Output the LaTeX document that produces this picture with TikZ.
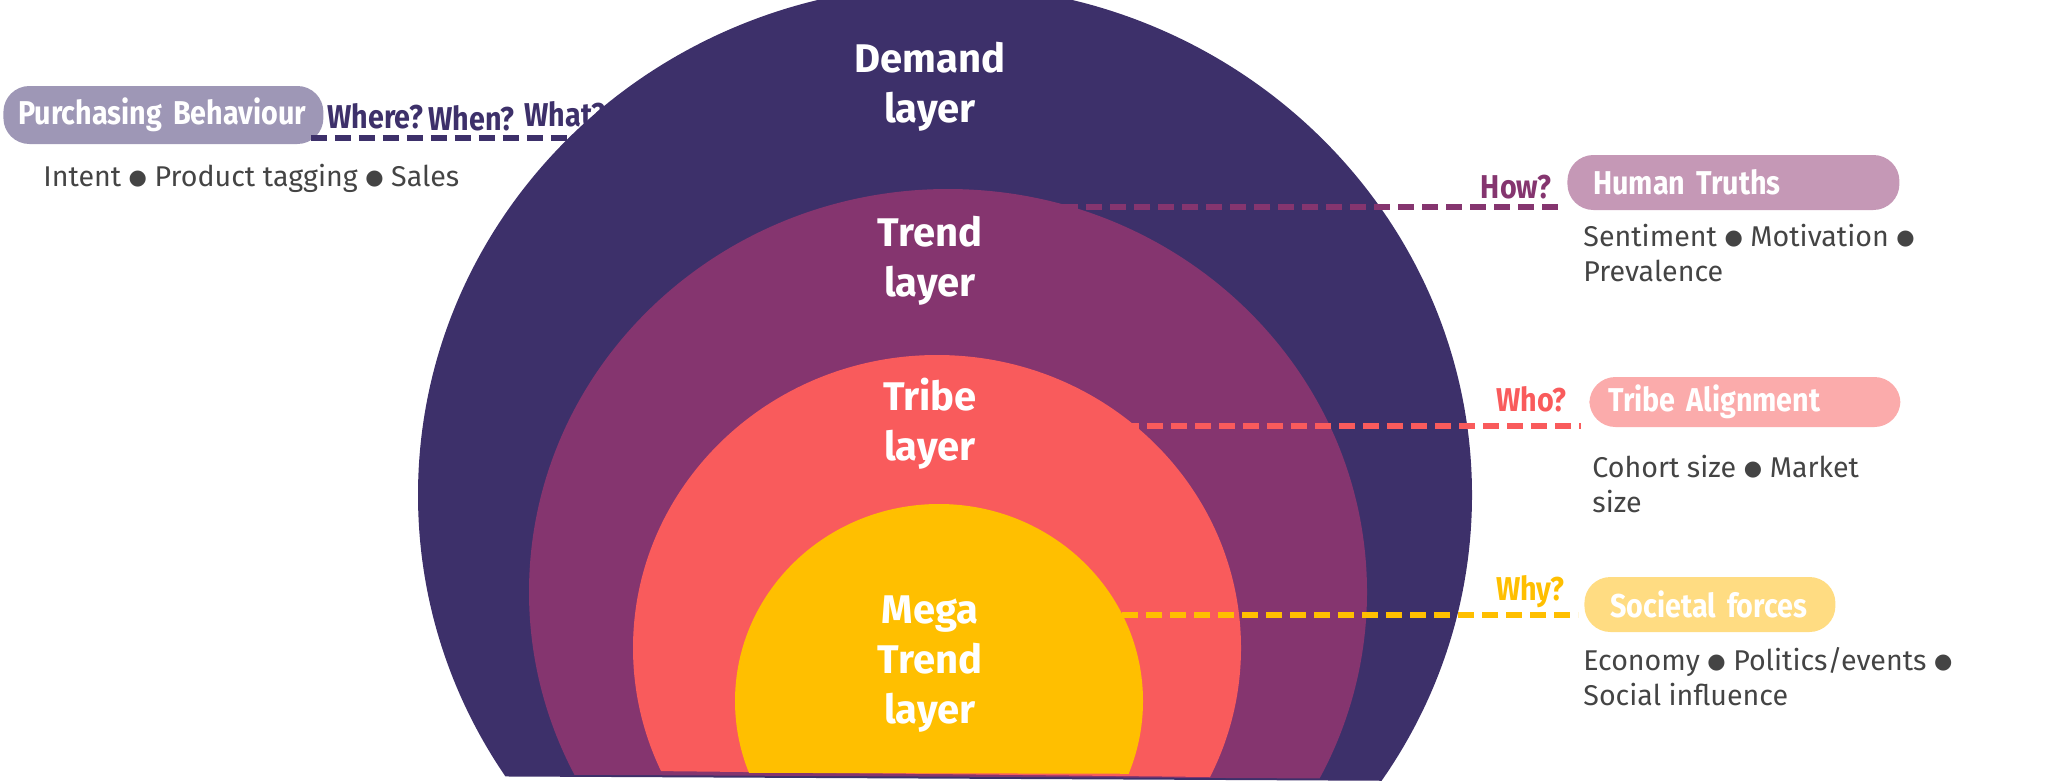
\documentclass[tikz,border=0pt]{standalone}
\usepackage{fontspec}
\setmainfont{Fira Sans}
\newfontfamily\narrowfont[FakeStretch=0.87]{Fira Sans}
\newfontfamily\dotfont{DejaVu Sans}
\newcommand{\sepdot}{\raisebox{0.9pt}{\dotfont\fontsize{10.5}{10.5}\selectfont ●}}
\definecolor{demandc}{HTML}{3D306A}
\definecolor{trendc}{HTML}{85356F}
\definecolor{tribec}{HTML}{F95B5C}
\definecolor{megac}{HTML}{FFBF00}
\definecolor{pbc}{HTML}{9E97B6}
\definecolor{htc}{HTML}{C598B6}
\definecolor{tac}{HTML}{FBABAB}
\definecolor{sfc}{HTML}{FFDC82}
\definecolor{infoc}{HTML}{444444}

\begin{document}
\begin{tikzpicture}[x=0.5pt,y=-0.5pt,
    layertext/.style={text=white,font=\fontsize{20}{25}\selectfont\bfseries,align=center,inner sep=0,anchor=north},
    pill/.style={rounded corners=13pt,text=white,font=\narrowfont\fontsize{16.5}{19}\selectfont\bfseries,align=left,anchor=west,inner ysep=0},
    ask/.style={font=\narrowfont\fontsize{16.5}{19}\selectfont\bfseries,inner sep=0},
    info/.style={text=infoc,font=\fontsize{14.3}{17.5}\selectfont,align=left,inner sep=0,anchor=base west},
    link/.style={line width=2.6pt,dash pattern=on 8pt off 4pt}]
\useasboundingbox (0,0) rectangle (2048,782);

    \node [pill,fill=pbc,minimum height=29pt,inner xsep=7.5pt,text width=145pt] (pb) at (3,115) {Purchasing Behaviour};
    \node [info] (ipb) at (43,186) {Intent \sepdot{} Product tagging \sepdot{} Sales};
    \node [ask,text=demandc,anchor=base west] (qwhere) at (327,128) {Where?};
    \node [ask,text=demandc,anchor=base west] (qwhen) at (428,130) {When?};
    \node [ask,text=demandc,anchor=base west] (qwhat) at (524,126) {What?};
    \coordinate (d0) at (600,138);
    \draw [link,demandc,shorten <=-6.5pt] (pb.east |- d0) -- (d0);

    \begin{scope}
    \clip (0,0) -- (2048,0) -- (2048,784) -- (0,774) -- cycle;
    \fill [demandc] (945,495) ellipse [x radius=527, y radius=510];
    \end{scope}
    \begin{scope}
    \clip (0,0) -- (2048,0) -- (2048,782) -- (0,772) -- cycle;
    \fill [trendc] (948,592) ellipse [x radius=419, y radius=403];
    \end{scope}
    \begin{scope}
    \clip (0,0) -- (2048,0) -- (2048,786) -- (0,764) -- cycle;
    \fill [tribec] (937,648) ellipse [x radius=304, y radius=293];
    \end{scope}
    \begin{scope}
    \clip (0,0) -- (2048,0) -- (2048,776) -- (0,771) -- cycle;
    \fill [megac] (939,701) ellipse [x radius=204, y radius=197];
    \end{scope}

    \node [layertext] (dl) at (930,42) {Demand\\layer};
    \node [layertext] (tl) at (930,216) {Trend\\layer};
    \node [layertext] (bl) at (930,378) {Tribe\\layer};
    \node [layertext] (ml) at (930,595) {Mega\\Trend\\layer};

    \node [pill,fill=htc,minimum height=27.5pt,inner xsep=13pt,text width=140pt] (ht) at (1567,182.5) {Human Truths};
    \node [pill,fill=tac,minimum height=25pt,inner xsep=9.5pt,text width=136.5pt] (ta) at (1589,402) {Tribe Alignment};
    \node [pill,fill=sfc,minimum height=27.5pt,inner xsep=13pt,text width=99.5pt] (sf) at (1584,604.5) {Societal forces};

    \node [ask,text=trendc,anchor=base east] (qhow) at (1552,198) {How?};
    \node [ask,text=tribec,anchor=base east] (qwho) at (1567,411) {Who?};
    \node [ask,text=megac,anchor=base east] (qwhy) at (1565,600) {Why?};

    \node [info] (iht) at (1583,281) {Sentiment \sepdot{} Motivation \sepdot\\Prevalence};
    \node [info] (ita) at (1592,512) {Cohort size \sepdot{} Market\\size};
    \node [info] (isf) at (1583,705) {Economy \sepdot{} Politics/events \sepdot\\Social influence};

    \coordinate (t0) at (1062,207);
    \coordinate (b0) at (1123,426);
    \coordinate (m0) at (1122,615);
    \draw [link,trendc,shorten >=4pt] (t0) -- (t0 -| ht.west);
    \draw [link,tribec,shorten >=4pt] (b0) -- (b0 -| ta.west);
    \draw [link,megac,shorten >=3pt] (m0) -- (m0 -| sf.west);

\end{tikzpicture}
\end{document}
